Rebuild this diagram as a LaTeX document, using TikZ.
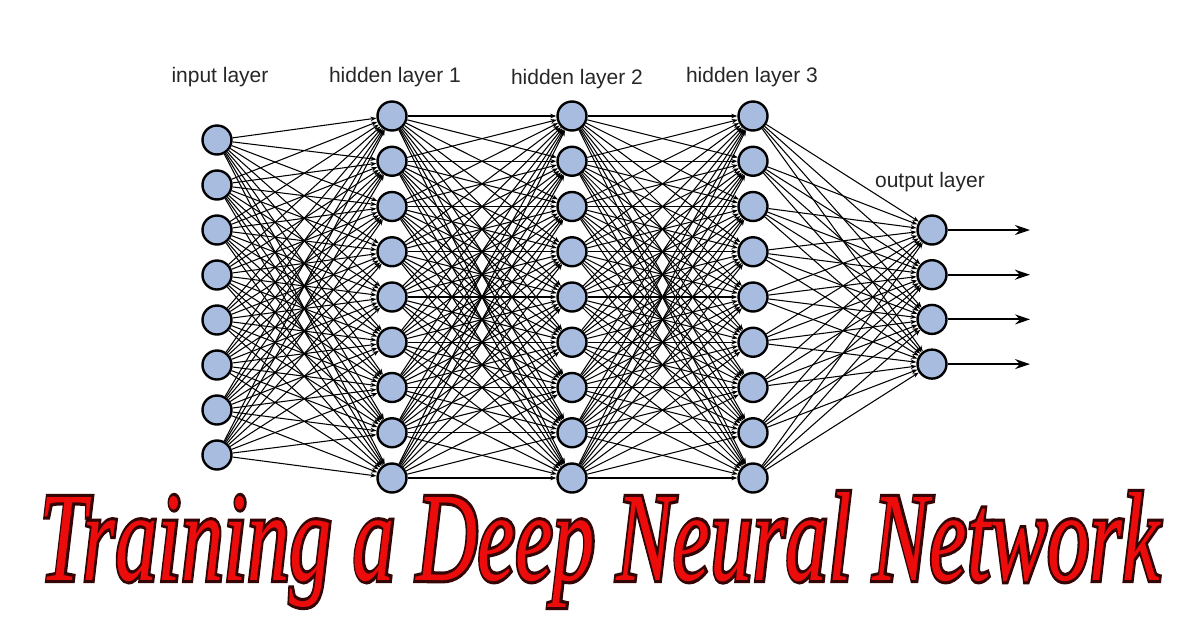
\documentclass[tikz,border=0pt]{standalone}
\usepackage{fontspec}
\setmainfont{Liberation Serif}
\setsansfont{Liberation Sans}
\usetikzlibrary{arrows.meta,positioning}
\definecolor{neuronblue}{RGB}{168,188,224}
\definecolor{titlered}{RGB}{236,12,12}

\newcommand{\outlinedtitle}[1]{%
    \rlap{\special{pdf:literal direct 0.2 0.02 0.02 RG 1 Tr 5 w}#1\special{pdf:literal direct 0 Tr}}#1}

\begin{document}
\begin{tikzpicture}[
    x=1pt, y=-1pt,
    neuron/.style={circle, draw, line width=2.4pt, fill=neuronblue, minimum size=29pt, inner sep=0pt},
    conn/.style={-{Stealth[length=6pt,width=4.5pt]}, line width=1.05pt},
    outarrow/.style={-{Stealth[length=15pt,width=10pt]}, line width=2pt},
    layername/.style={font=\sffamily\fontsize{21}{25}\selectfont, text=black!85}
]
\useasboundingbox (0,0) rectangle (1200,630);

% Input layer
\foreach \i in {1,...,8}
    \node[neuron] (inp-\i) at (217,{140+45*(\i-1)}) {};

% Hidden layers
\foreach \l/\x in {a/392, b/572, c/753}
    \foreach \i in {1,...,9}
        \node[neuron] (hid\l-\i) at (\x,{116+45.25*(\i-1)}) {};

% Output layer
\foreach \i in {1,...,4}
    \node[neuron] (out-\i) at (932,{230+44.7*(\i-1)}) {};

% Connections
\foreach \i in {1,...,8}
    \foreach \j in {1,...,9}
        \draw[conn] (inp-\i) -- (hida-\j);
\foreach \s/\t in {a/b, b/c}
    \foreach \i in {1,...,9}
        \foreach \j in {1,...,9}
            \draw[conn] (hid\s-\i) -- (hid\t-\j);
\foreach \i in {1,...,9}
    \foreach \j in {1,...,4}
        \draw[conn] (hidc-\i) -- (out-\j);

% Results
\foreach \i in {1,...,4} {
    \coordinate (res-\i) at (1030,{230+44.7*(\i-1)});
    \draw[outarrow] (out-\i) -- (res-\i);
}

% Labels
\node[layername] (lab-inp) at (220,77) {input layer};
\node[layername] (lab-hida) at (395,77) {hidden layer 1};
\node[layername] (lab-hidb) at (577,79) {hidden layer 2};
\node[layername] (lab-hidc) at (752,77) {hidden layer 3};
\node[layername] (lab-out) at (930,182) {output layer};

% Title (red fill, dark outline)
\node[anchor=base, inner sep=0pt] (title) at (600,580)
    {\resizebox{1120pt}{88pt}{\fontsize{100}{100}\selectfont\itshape\textcolor{titlered}{\outlinedtitle{Training a Deep Neural Network}}}};

\end{tikzpicture}
\end{document}
